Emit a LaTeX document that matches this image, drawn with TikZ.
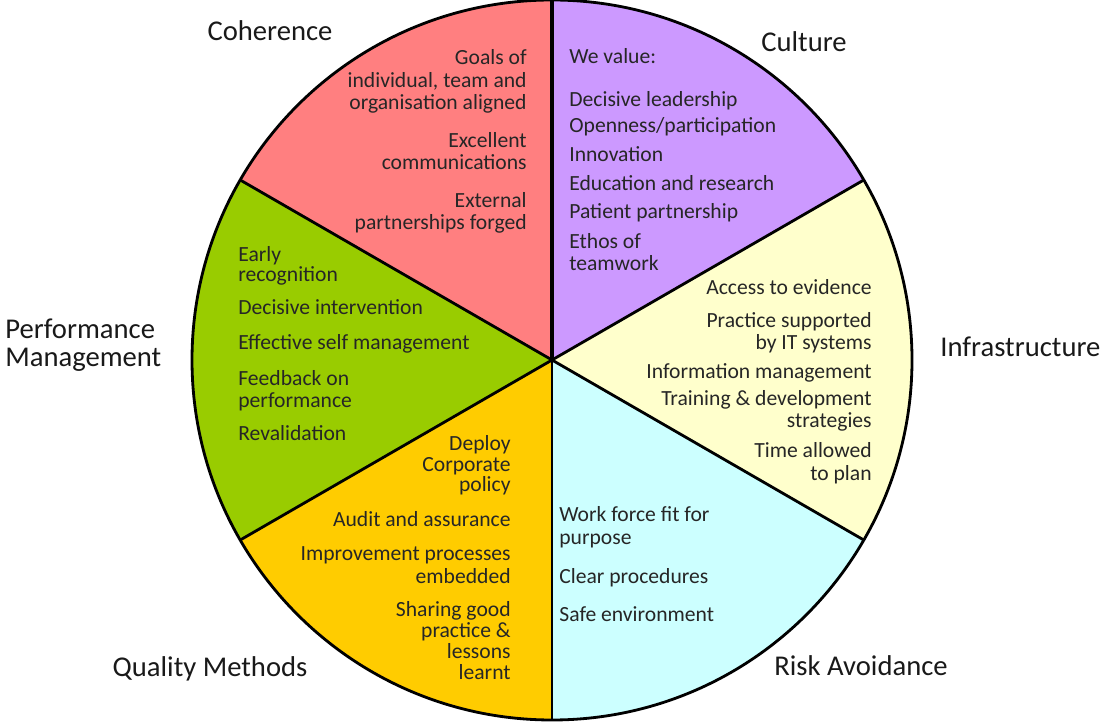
\documentclass[tikz,border=0pt]{standalone}
\usepackage{fontspec}
\setmainfont{Carlito}
\usetikzlibrary{calc}

\definecolor{cohfill}{HTML}{FF7F80}
\definecolor{culfill}{HTML}{CC99FF}
\definecolor{inffill}{HTML}{FFFFCC}
\definecolor{riskfill}{HTML}{CCFFFF}
\definecolor{qualfill}{HTML}{FFCC00}
\definecolor{perffill}{HTML}{99CC00}

\newcommand{\itemfont}{\fontsize{12.3}{12.9}\selectfont}
\newcommand{\tightfont}{\fontsize{12.3}{11.9}\selectfont}
\newcommand{\labelfont}{\fontsize{16.3}{16.5}\selectfont}

\tikzset{
  rim/.style={line width=1.6pt, black},
  item/.style={inner sep=0pt, font=\itemfont, text=black!85},
  itemr/.style={item, align=right, anchor=base east},
  iteml/.style={item, align=left, anchor=base west},
  tight/.style={font=\tightfont},
  segname/.style={inner sep=0pt, font=\labelfont, text=black!90}
}

\begin{document}
\begin{tikzpicture}[x=0.02cm, y=0.02cm]
\useasboundingbox (0,0) rectangle (1105,-722);
\coordinate (O) at (552,-360);
\foreach \a in {30,90,150,210,270,330}
  \path (O) ++(\a:360) coordinate (r\a);

% sectors
\fill[culfill] (O) -- (r30) arc[start angle=30, end angle=90, radius=360] -- cycle;
\fill[cohfill] (O) -- (r90) arc[start angle=90, end angle=150, radius=360] -- cycle;
\fill[perffill] (O) -- (r150) arc[start angle=150, end angle=210, radius=360] -- cycle;
\fill[qualfill] (O) -- (r210) arc[start angle=210, end angle=270, radius=360] -- cycle;
\fill[riskfill] (O) -- (r270) arc[start angle=270, end angle=330, radius=360] -- cycle;
\fill[inffill] (O) -- (r330) arc[start angle=330, end angle=390, radius=360] -- cycle;

% spokes and rim
\foreach \a in {30,150,210,270,330}
  \draw[rim] (O) -- (r\a);
\draw[rim, line width=2.2pt] (O) -- (r90);
\draw[rim] (O) circle[radius=360];

% Coherence (base = last line)
\node[itemr] (coh1) at (527,-110) {Goals of\\individual, team and\\organisation aligned};
\node[itemr] (coh2) at (527,-170) {Excellent\\communications};
\node[itemr] (coh3) at (527,-230) {External\\partnerships forged};

% Culture
\node[iteml] (cul0) at (569,-64) {We value:};
\node[iteml] (cul1) at (569,-107) {Decisive leadership};
\node[iteml] (cul2) at (569,-133) {Openness/participation};
\node[iteml] (cul3) at (569,-162) {Innovation};
\node[iteml] (cul4) at (569,-191) {Education and research};
\node[iteml] (cul5) at (569,-219) {Patient partnership};
\node[iteml] (cul6) at (569,-271) {Ethos of\\teamwork};

% Infrastructure
\node[itemr] (inf1) at (872,-295) {Access to evidence};
\node[itemr] (inf2) at (872,-350) {Practice supported\\by IT systems};
\node[itemr] (inf3) at (872,-379) {Information management};
\node[itemr] (inf4) at (872,-428) {Training \& development\\strategies};
\node[itemr] (inf5) at (872,-480) {Time allowed\\to plan};

% Performance Management
\node[iteml, tight] (perf1) at (238,-282) {Early\\recognition};
\node[iteml] (perf2) at (238,-315) {Decisive intervention};
\node[iteml] (perf3) at (238,-350) {Effective self management};
\node[iteml] (perf4) at (238,-408) {Feedback on\\performance};
\node[iteml] (perf5) at (238,-440) {Revalidation};

% Quality Methods
\node[itemr, tight] (qual1) at (511,-492) {Deploy\\Corporate\\policy};
\node[itemr] (qual2) at (511,-526) {Audit and assurance};
\node[itemr] (qual3) at (511,-583) {Improvement processes\\embedded};
\node[itemr, tight] (qual4) at (511,-679) {Sharing good\\practice \&\\lessons\\learnt};

% Risk Avoidance
\node[iteml] (risk1) at (559,-544) {Work force fit for\\purpose};
\node[iteml] (risk2) at (559,-583) {Clear procedures};
\node[iteml] (risk3) at (559,-621) {Safe environment};

% segment names
\node[segname, anchor=base] (coherence) at (270,-41) {Coherence};
\node[segname, anchor=base] (culture) at (804,-52) {Culture};
\node[segname, anchor=base west] (infra) at (940,-357) {Infrastructure};
\node[segname, anchor=base west, align=left] (perfman) at (5,-367) {Performance\\Management};
\node[segname, anchor=base] (quality) at (210,-676) {Quality Methods};
\node[segname, anchor=base] (riskav) at (861,-675) {Risk Avoidance};
\end{tikzpicture}
\end{document}
